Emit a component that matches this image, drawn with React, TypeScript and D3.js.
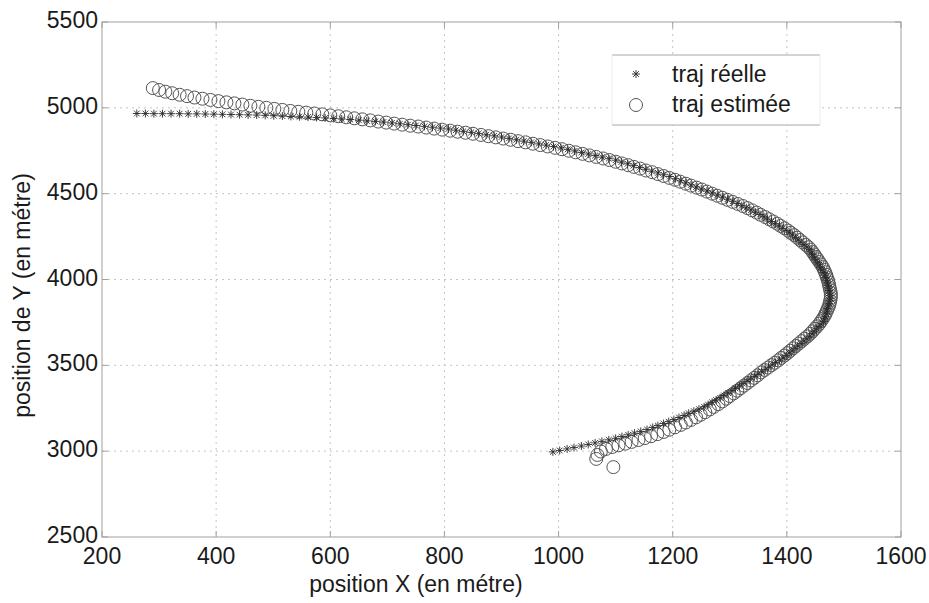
import React from "react";
import * as d3 from "d3";

const xTicks = [200, 400, 600, 800, 1000, 1200, 1400, 1600];
const yTicks = [2500, 3000, 3500, 4000, 4500, 5000, 5500];
const legendLabels = ["traj réelle", "traj estimée"];

// trajectoire réelle (étoiles), x en mètres
const trueX = [
  990, 1002, 1015, 1027, 1040, 1052, 1064, 1076, 1088, 1100, 1111, 1122, 1133, 1144, 1155, 1165, 1174, 1184, 1193,
  1202, 1211, 1220, 1228, 1237, 1246, 1255, 1262, 1269, 1276, 1283, 1290, 1297, 1304, 1310, 1317, 1323, 1330, 1336,
  1343, 1349, 1356, 1362, 1368, 1374, 1380, 1387, 1393, 1399, 1404, 1409, 1414, 1419, 1425, 1430, 1435, 1440, 1444,
  1448, 1452, 1456, 1460, 1464, 1466, 1467, 1469, 1470, 1471, 1473, 1474, 1475, 1476,
  1476, 1475, 1474, 1473, 1472, 1471, 1470, 1468, 1467, 1465, 1462, 1459, 1457, 1454, 1451, 1448, 1445, 1443, 1440,
  1435, 1430, 1425, 1420, 1415, 1410, 1405, 1400, 1393, 1387, 1380, 1373, 1366, 1360, 1353, 1345, 1337, 1329, 1321,
  1313, 1305, 1296, 1287, 1278, 1269, 1260, 1250, 1241, 1232, 1223, 1214, 1205, 1195, 1184, 1174, 1163, 1152, 1142,
  1131, 1121, 1110, 1100, 1088, 1076, 1064, 1052, 1040, 1028, 1016, 1004, 991, 978, 965, 952, 939, 926, 913, 900,
  887, 873, 860, 847, 833, 820, 807, 793, 779, 765, 750, 736, 722, 708, 693, 679, 664, 650, 635, 620, 606, 591, 576,
  561, 546, 531, 516, 501, 486, 471, 456, 441, 426, 411, 396, 381, 366, 351, 336, 321, 306, 291, 276, 261
];
// trajectoire réelle, y en mètres
const trueY = [
  2996, 3004, 3013, 3021, 3030, 3039, 3048, 3057, 3066, 3075, 3085, 3095, 3105, 3115, 3126, 3138, 3149, 3161, 3172,
  3184, 3196, 3208, 3221, 3233, 3245, 3258, 3271, 3285, 3298, 3311, 3325, 3338, 3352, 3366, 3379, 3393, 3407, 3420,
  3434, 3448, 3462, 3475, 3489, 3503, 3516, 3530, 3543, 3557, 3571, 3585, 3599, 3613, 3627, 3641, 3655, 3669, 3684,
  3698, 3713, 3727, 3742, 3756, 3771, 3786, 3801, 3816, 3831, 3846, 3861, 3876, 3891,
  3906, 3921, 3936, 3951, 3966, 3981, 3996, 4011, 4026, 4041, 4056, 4071, 4086, 4100, 4115, 4130, 4145, 4160, 4175,
  4189, 4203, 4217, 4231, 4245, 4259, 4272, 4285, 4298, 4312, 4325, 4338, 4352, 4365, 4379, 4392, 4405, 4418, 4430,
  4443, 4456, 4468, 4480, 4492, 4504, 4516, 4527, 4539, 4551, 4563, 4575, 4587, 4600, 4610, 4621, 4631, 4642, 4652,
  4663, 4674, 4684, 4695, 4704, 4713, 4722, 4731, 4740, 4749, 4758, 4767, 4775, 4783, 4790, 4799, 4806, 4814, 4822,
  4830, 4837, 4843, 4850, 4857, 4863, 4870, 4877, 4882, 4887, 4892, 4897, 4902, 4907, 4912, 4917, 4921, 4924, 4928,
  4932, 4935, 4938, 4941, 4944, 4946, 4948, 4950, 4952, 4954, 4956, 4958, 4959, 4960, 4961, 4962, 4963, 4964, 4965,
  4965, 4966, 4966, 4966, 4966, 4967, 4967, 4967, 4967
];

// trajectoire estimée (cercles), x en mètres
const estX = [
  1096, 1066, 1068, 1074, 1083, 1094, 1105, 1117, 1128, 1140, 1151, 1162, 1173, 1184, 1194, 1204, 1214, 1223, 1232,
  1241, 1249, 1257, 1265, 1272, 1280, 1287, 1294, 1300, 1307, 1313, 1319, 1325, 1331, 1337, 1343, 1349, 1355, 1361,
  1367, 1373, 1379, 1385, 1390, 1396, 1401, 1406, 1411, 1416, 1421, 1426, 1431, 1436, 1441, 1445, 1449, 1453, 1457,
  1460, 1463, 1466, 1468, 1470, 1472, 1474, 1475, 1476, 1477, 1477, 1477, 1476, 1475, 1474, 1473, 1472, 1470, 1469,
  1467, 1465, 1463, 1460, 1457, 1454, 1451, 1448, 1445, 1442, 1438, 1433, 1428, 1423, 1418, 1413, 1407, 1402, 1396,
  1389, 1383, 1376, 1369, 1362, 1354, 1347, 1339, 1331, 1323, 1314, 1305, 1296, 1287, 1278, 1269, 1260, 1251, 1242,
  1232, 1223, 1213, 1204, 1194, 1184, 1174, 1164, 1153, 1143, 1132, 1122, 1111, 1100, 1089, 1078, 1066, 1054, 1042,
  1030, 1018, 1006, 994, 981, 968, 955, 942, 929, 916, 903, 890, 877, 864, 850, 837, 823, 810, 796, 782, 768, 754,
  740, 726, 712, 698, 684, 670, 656, 642, 628, 614, 600, 586, 572, 558, 544, 530, 516, 502, 488, 474, 460, 446, 432,
  418, 404, 390, 376, 362, 349, 336, 323, 311, 300, 289
];
// trajectoire estimée, y en mètres
const estY = [
  2907, 2955, 2978, 2998, 3013, 3024, 3034, 3044, 3054, 3065, 3076, 3087, 3099, 3112, 3125, 3139, 3153, 3167, 3182,
  3197, 3212, 3227, 3243, 3258, 3274, 3290, 3306, 3321, 3337, 3352, 3367, 3382, 3397, 3412, 3427, 3442, 3459, 3473,
  3487, 3501, 3515, 3529, 3543, 3557, 3571, 3585, 3599, 3613, 3627, 3641, 3655, 3669, 3684, 3698, 3713, 3727, 3742,
  3757, 3772, 3787, 3802, 3817, 3832, 3847, 3862, 3877, 3892, 3907, 3922, 3937, 3952, 3967, 3982, 3997, 4012, 4027,
  4042, 4057, 4072, 4087, 4102, 4117, 4131, 4146, 4160, 4174, 4188, 4202, 4216, 4230, 4244, 4258, 4272, 4285, 4298,
  4312, 4325, 4338, 4351, 4364, 4377, 4390, 4403, 4416, 4428, 4440, 4452, 4464, 4476, 4488, 4500, 4512, 4524, 4535,
  4547, 4558, 4570, 4581, 4592, 4603, 4614, 4625, 4635, 4646, 4656, 4666, 4676, 4686, 4696, 4705, 4714, 4723, 4732,
  4741, 4750, 4759, 4767, 4775, 4783, 4791, 4799, 4806, 4814, 4821, 4828, 4835, 4842, 4849, 4855, 4861, 4867, 4873,
  4879, 4885, 4891, 4896, 4902, 4908, 4914, 4920, 4927, 4933, 4939, 4945, 4951, 4956, 4962, 4967, 4972, 4977, 4982,
  4988, 4994, 5000, 5006, 5012, 5019, 5026, 5032, 5039, 5046, 5053, 5060, 5068, 5076, 5085, 5094, 5104, 5115
];

const W = 929;
const H = 603;
const M = { left: 102, right: 901, top: 22, bottom: 537 };
const FONT = "'Liberation Sans', Arial, Helvetica, sans-serif";

function Star({ cx, cy, r, color }: { cx: number; cy: number; r: number; color: string }) {
  const d = r * 0.72;
  return (
    <g stroke={color} strokeWidth={0.9}>
      <line x1={cx - r} y1={cy} x2={cx + r} y2={cy} />
      <line x1={cx} y1={cy - r} x2={cx} y2={cy + r} />
      <line x1={cx - d} y1={cy - d} x2={cx + d} y2={cy + d} />
      <line x1={cx - d} y1={cy + d} x2={cx + d} y2={cy - d} />
    </g>
  );
}

export default function App() {
  const x = d3.scaleLinear().domain([200, 1600]).range([M.left, M.right]);
  const y = d3.scaleLinear().domain([2500, 5500]).range([M.bottom, M.top]);
  const trueData = trueX.map((v, i) => [v, trueY[i]] as [number, number]);
  const estData = estX.map((v, i) => [v, estY[i]] as [number, number]);
  const gridColor = "#c4c4c4";
  const axisColor = "#a0a0a0";

  return (
    <svg width={W} height={H} style={{ position: "absolute", left: 0, top: 0, background: "#fff" }} fontFamily={FONT}>
      <rect x={0} y={0} width={W} height={H} fill="#fff" />
      {/* grid */}
      <g stroke={gridColor} strokeWidth={1} strokeDasharray="2,4">
        {xTicks.slice(1, -1).map((t) => (
          <line key={"gx" + t} x1={x(t)} x2={x(t)} y1={M.top} y2={M.bottom} />
        ))}
        {yTicks.slice(1, -1).map((t) => (
          <line key={"gy" + t} x1={M.left} x2={M.right} y1={y(t)} y2={y(t)} />
        ))}
      </g>
      {/* box */}
      <rect x={M.left} y={M.top} width={M.right - M.left} height={M.bottom - M.top} fill="none" stroke={axisColor} strokeWidth={1} />
      {/* ticks */}
      <g stroke={axisColor} strokeWidth={1}>
        {xTicks.map((t) => (
          <g key={"tx" + t}>
            <line x1={x(t)} x2={x(t)} y1={M.bottom} y2={M.bottom - 6} />
            <line x1={x(t)} x2={x(t)} y1={M.top} y2={M.top + 6} />
          </g>
        ))}
        {yTicks.map((t) => (
          <g key={"ty" + t}>
            <line x1={M.left} x2={M.left + 6} y1={y(t)} y2={y(t)} />
            <line x1={M.right} x2={M.right - 6} y1={y(t)} y2={y(t)} />
          </g>
        ))}
      </g>
      {/* data: estimated circles */}
      <g fill="none" stroke="#555" strokeWidth={1}>
        {estData.map((p, i) => (
          <circle key={"e" + i} cx={x(p[0])} cy={y(p[1])} r={6.5} />
        ))}
      </g>
      {/* data: true stars */}
      <g>
        {trueData.map((p, i) => (
          <Star key={"s" + i} cx={x(p[0])} cy={y(p[1])} r={4} color="#2a2a2a" />
        ))}
      </g>
      {/* tick labels */}
      <g fill="#1a1a1a" fontSize={23}>
        {xTicks.map((t) => (
          <text key={"lx" + t} x={x(t)} y={564} textAnchor="middle">
            {t}
          </text>
        ))}
        {yTicks.map((t) => (
          <text key={"ly" + t} x={M.left - 4} y={y(t)} textAnchor="end" dominantBaseline="middle">
            {t}
          </text>
        ))}
      </g>
      {/* axis labels */}
      <text x={416} y={592} textAnchor="middle" fontSize={23} fill="#1a1a1a">
        position X (en métre)
      </text>
      <text transform={`translate(24,${(M.top + M.bottom) / 2 + 16}) rotate(-90)`} textAnchor="middle" dominantBaseline="middle" fontSize={23} fill="#1a1a1a">
        position de Y (en métre)
      </text>
      {/* legend */}
      <g>
        <rect x={612} y={55} width={208} height={70} fill="#fff" stroke="none" />
        <line x1={612} x2={820} y1={55} y2={55} stroke="#a8a8a8" strokeWidth={1} />
        <line x1={612} x2={820} y1={125} y2={125} stroke="#a8a8a8" strokeWidth={1} />
        <line x1={612} x2={612} y1={55} y2={125} stroke="#ececec" strokeWidth={1} />
        <line x1={820} x2={820} y1={55} y2={125} stroke="#ececec" strokeWidth={1} />
        <Star cx={636} cy={74} r={4} color="#2a2a2a" />
        <circle cx={636} cy={105} r={6.5} fill="none" stroke="#555" strokeWidth={1} />
        <text x={672} y={82} fontSize={23} fill="#1a1a1a">
          {legendLabels[0]}
        </text>
        <text x={672} y={112} fontSize={23} fill="#1a1a1a">
          {legendLabels[1]}
        </text>
      </g>
    </svg>
  );
}
